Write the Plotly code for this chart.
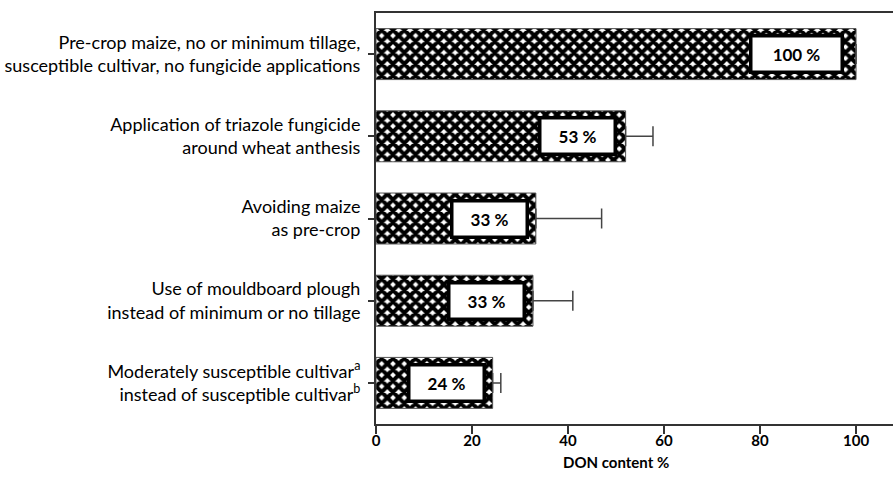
import plotly.graph_objects as go

categories = [
    "Pre-crop maize, no or minimum tillage,<br>susceptible cultivar, no fungicide applications",
    "Application of triazole fungicide<br>around wheat anthesis",
    "Avoiding maize<br>as pre-crop",
    "Use of mouldboard plough<br>instead of minimum or no tillage",
    "Moderately susceptible cultivar<sup>a</sup><br>instead of susceptible cultivar<sup>b</sup>",
]
values = [100, 52, 33.3, 32.7, 24.3]
errors_plus = [0, 5.7, 13.7, 8.3, 1.7]
labels = ["100 %", "53 %", "33 %", "33 %", "24 %"]
x_ticks = [0, 20, 40, 60, 80, 100]

FONT = "Lato, 'Open Sans', sans-serif"

fig = go.Figure()
fig.add_trace(go.Bar(
    x=values,
    y=categories,
    orientation="h",
    width=0.62,
    marker=dict(
        color="white",
        line=dict(color="#555555", width=1),
        pattern=dict(shape="x", fgcolor="black", bgcolor="white", size=8, solidity=0.75, fgopacity=1),
    ),
    error_x=dict(
        type="data", symmetric=False, array=errors_plus,
        arrayminus=[0] * len(values),
        color="#444444", thickness=1.5, width=10,
        visible=True,
    ),
    showlegend=False,
    hoverinfo="skip",
))

for cat, val, lab in zip(categories, values, labels):
    w = 86 if len(lab) > 4 else 70
    fig.add_annotation(
        x=val - (1 + 0.015 * val), y=cat, xref="x", yref="y",
        text="<b>" + lab + "</b>", showarrow=False,
        xanchor="right", yanchor="middle",
        width=w, height=31,
        bgcolor="white", bordercolor="black", borderwidth=3.5,
        font=dict(family=FONT, size=17, color="black"),
    )

fig.add_annotation(
    x=50, y=0, xref="x", yref="paper", yshift=-38,
    text="<b>DON content %</b>", showarrow=False,
    xanchor="center", yanchor="middle",
    font=dict(family=FONT, size=15, color="black"),
)

fig.update_layout(
    width=893, height=495,
    margin=dict(l=376, r=0, t=13, b=71),
    paper_bgcolor="white", plot_bgcolor="white",
    font=dict(family=FONT, size=18, color="black"),
)
fig.update_xaxes(
    range=[0, 107.7], tickvals=x_ticks, ticktext=["<b>%d</b>" % t for t in x_ticks],
    showgrid=False, zeroline=False,
    showline=True, linecolor="#333333", linewidth=2, mirror=True,
    ticks="outside", ticklen=8, tickwidth=2, tickcolor="#333333",
    ticklabelstandoff=-6,
    tickfont=dict(family=FONT, size=15, color="black"),
)
fig.update_yaxes(
    categoryorder="array", categoryarray=categories,
    range=[4.5, -0.5],
    showgrid=False, zeroline=False,
    showline=True, linecolor="#333333", linewidth=2,
    ticks="outside", ticklen=6, tickwidth=1.5, tickcolor="#333333",
    ticklabelstandoff=4,
    tickfont=dict(family=FONT, size=18, color="black"),
)

fig.write_html("out.html")
